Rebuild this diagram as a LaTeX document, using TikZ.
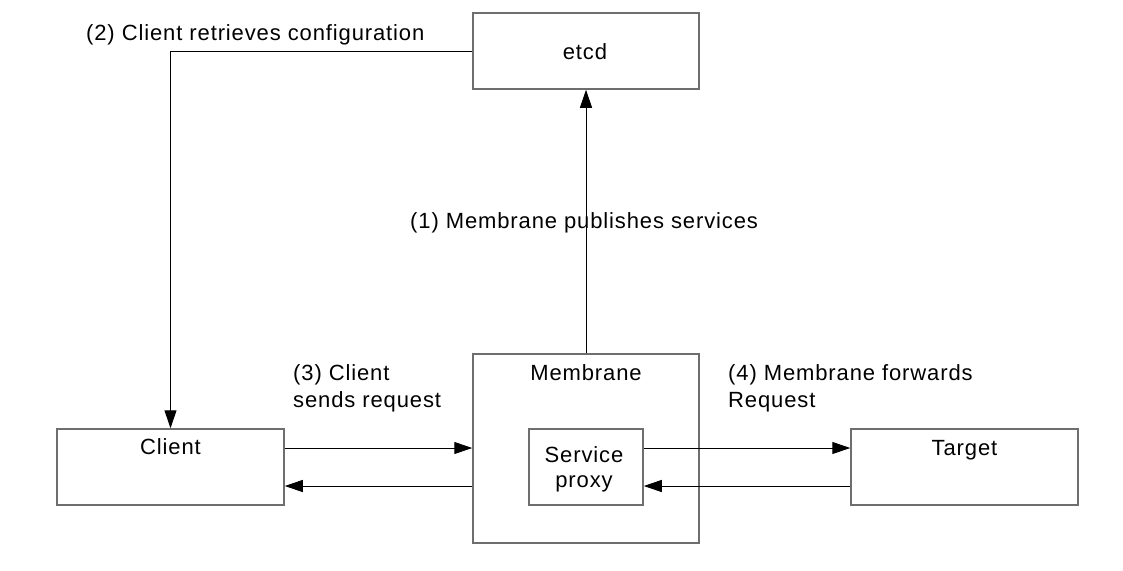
\documentclass[tikz,border=0pt]{standalone}
\usepackage{fontspec}
\setmainfont{Liberation Sans}[LetterSpace=4]
\usetikzlibrary{arrows.meta}
\definecolor{boxgray}{RGB}{110,110,110}
\begin{document}
\begin{tikzpicture}[x=1pt,y=-1pt,
  box/.style={draw=boxgray,line width=1.5pt,rectangle,inner sep=0pt,anchor=center},
  conn/.style={draw=black,line width=1pt,-{Triangle[length=18pt,width=12pt]}},
  txt/.style={inner sep=0pt,font=\fontsize{22}{27}\selectfont,align=left}]
\fill[white] (0,0) rectangle (1123,570);
\useasboundingbox (0,0) rectangle (1123,570);
% boxes
\node[box,minimum width=226pt,minimum height=76pt] (etcd) at (586,51) {};
\node[box,minimum width=227pt,minimum height=76pt] (client) at (170.5,467) {};
\node[box,minimum width=226pt,minimum height=189pt] (mem) at (586,448.5) {};
\node[box,minimum width=114pt,minimum height=76pt] (proxy) at (586,467) {};
\node[box,minimum width=227pt,minimum height=76pt] (target) at (964.5,467) {};
% box texts
\node[txt,anchor=base] (etcdt) at (585,59) {etcd};
\node[txt,anchor=base] (clientt) at (170.5,454) {Client};
\node[txt,anchor=base] (memt) at (586,380) {Membrane};
\node[txt,anchor=base,align=center,font=\fontsize{22}{25}\selectfont] (proxyt) at (584,487) {Service\\proxy};
\node[txt,anchor=base] (targett) at (964.5,455) {Target};
% labels
\node[txt,anchor=base west] (l2) at (86,40) {(2) Client retrieves configuration};
\node[txt,anchor=base west] (l1) at (410,228) {(1) Membrane publishes services};
\node[txt,anchor=base west] (l3) at (293,407) {(3) Client\\sends request};
\node[txt,anchor=base west] (l4) at (728,407) {(4) Membrane forwards\\Request};
% connectors
\coordinate (yA) at (0,448);
\coordinate (yB) at (0,486);
\draw[conn] (mem.north) -- (etcd.south);
\draw[conn] (etcd.west) -| (client.north);
\draw[conn] (client.east |- yA) -- (mem.west |- yA);
\draw[conn] (mem.west |- yB) -- (client.east |- yB);
\draw[conn] (proxy.east |- yA) -- (target.west |- yA);
\draw[conn] (target.west |- yB) -- (proxy.east |- yB);
\end{tikzpicture}
\end{document}
